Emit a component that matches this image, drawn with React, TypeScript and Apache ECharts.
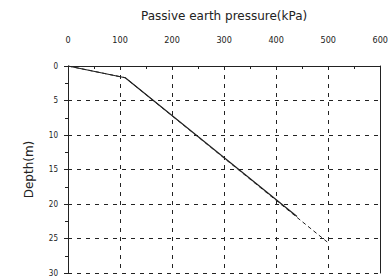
import React, { useEffect, useRef } from "react";
import * as echarts from "echarts";

const xTicks = [0, 100, 200, 300, 400, 500, 600];
const depthTicks = [0, 5, 10, 15, 20, 25, 30];
const solidSeries: [number, number][] = [[0, 0], [110, 1.7], [440, 21.8]];
const dashedSeries: [number, number][] = [[0, 0], [110, 1.7], [498, 25.5]];

export default function App() {
  const ref = useRef<HTMLDivElement>(null);
  useEffect(() => {
    if (!ref.current) return;
    const chart = echarts.init(ref.current, undefined, { renderer: "svg" });
    const ink = "#222";
    chart.setOption({
      animation: false,
      backgroundColor: "#fff",
      grid: { left: 68, right: 9, top: 66, bottom: 3 },
      xAxis: {
        type: "value",
        position: "top",
        min: xTicks[0],
        max: xTicks[xTicks.length - 1],
        interval: 100,
        name: "Passive earth pressure(kPa)",
        nameLocation: "middle",
        nameGap: 50,
        nameTextStyle: { fontFamily: "DejaVu Sans", fontSize: 12, color: ink, verticalAlign: "middle" },
        axisLine: { show: true, lineStyle: { color: ink, width: 1 } },
        axisTick: { show: true, inside: true, length: 4, lineStyle: { color: ink } },
        minorTick: { show: true, splitNumber: 2, length: 3, lineStyle: { color: ink } },
        axisLabel: { margin: 22, fontFamily: "Liberation Sans Narrow, DejaVu Sans Condensed, sans-serif", fontSize: 9, color: ink },
        splitLine: { show: true, lineStyle: { color: ink, type: [4, 5], width: 1 } },
      },
      yAxis: [
        {
          type: "value",
          inverse: true,
          min: depthTicks[0],
          max: depthTicks[depthTicks.length - 1],
          interval: 5,
          name: "Depth(m)",
          nameLocation: "middle",
          nameGap: 33,
          nameRotate: 90,
          nameTextStyle: { fontFamily: "DejaVu Sans", fontSize: 12, color: ink },
          axisLine: { show: true, lineStyle: { color: ink, width: 1 } },
          axisTick: { show: true, length: 4, lineStyle: { color: ink } },
          minorTick: { show: true, splitNumber: 2, length: 3, lineStyle: { color: ink } },
          axisLabel: { margin: 10, fontFamily: "Liberation Sans Narrow, DejaVu Sans Condensed, sans-serif", fontSize: 8, color: ink },
          splitLine: { show: true, lineStyle: { color: ink, type: [4, 5], width: 1 } },
        },
        {
          type: "value",
          inverse: true,
          position: "right",
          min: 0,
          max: 30,
          interval: 5,
          axisLine: { show: true, lineStyle: { color: ink, width: 1 } },
          axisTick: { show: false },
          axisLabel: { show: false },
          splitLine: { show: false },
        },
      ],
      series: [
        {
          type: "line",
          data: solidSeries,
          yAxisIndex: 0,
          symbol: "none",
          lineStyle: { color: ink, width: 1.2, type: "solid" },
        },
        {
          type: "line",
          data: dashedSeries,
          yAxisIndex: 0,
          symbol: "none",
          lineStyle: { color: ink, width: 1, type: [4, 3] },
        },
      ],
    });
    return () => chart.dispose();
  }, []);
  return <div ref={ref} style={{ width: 391, height: 277, position: "absolute", left: 0, top: 0 }} />;
}
